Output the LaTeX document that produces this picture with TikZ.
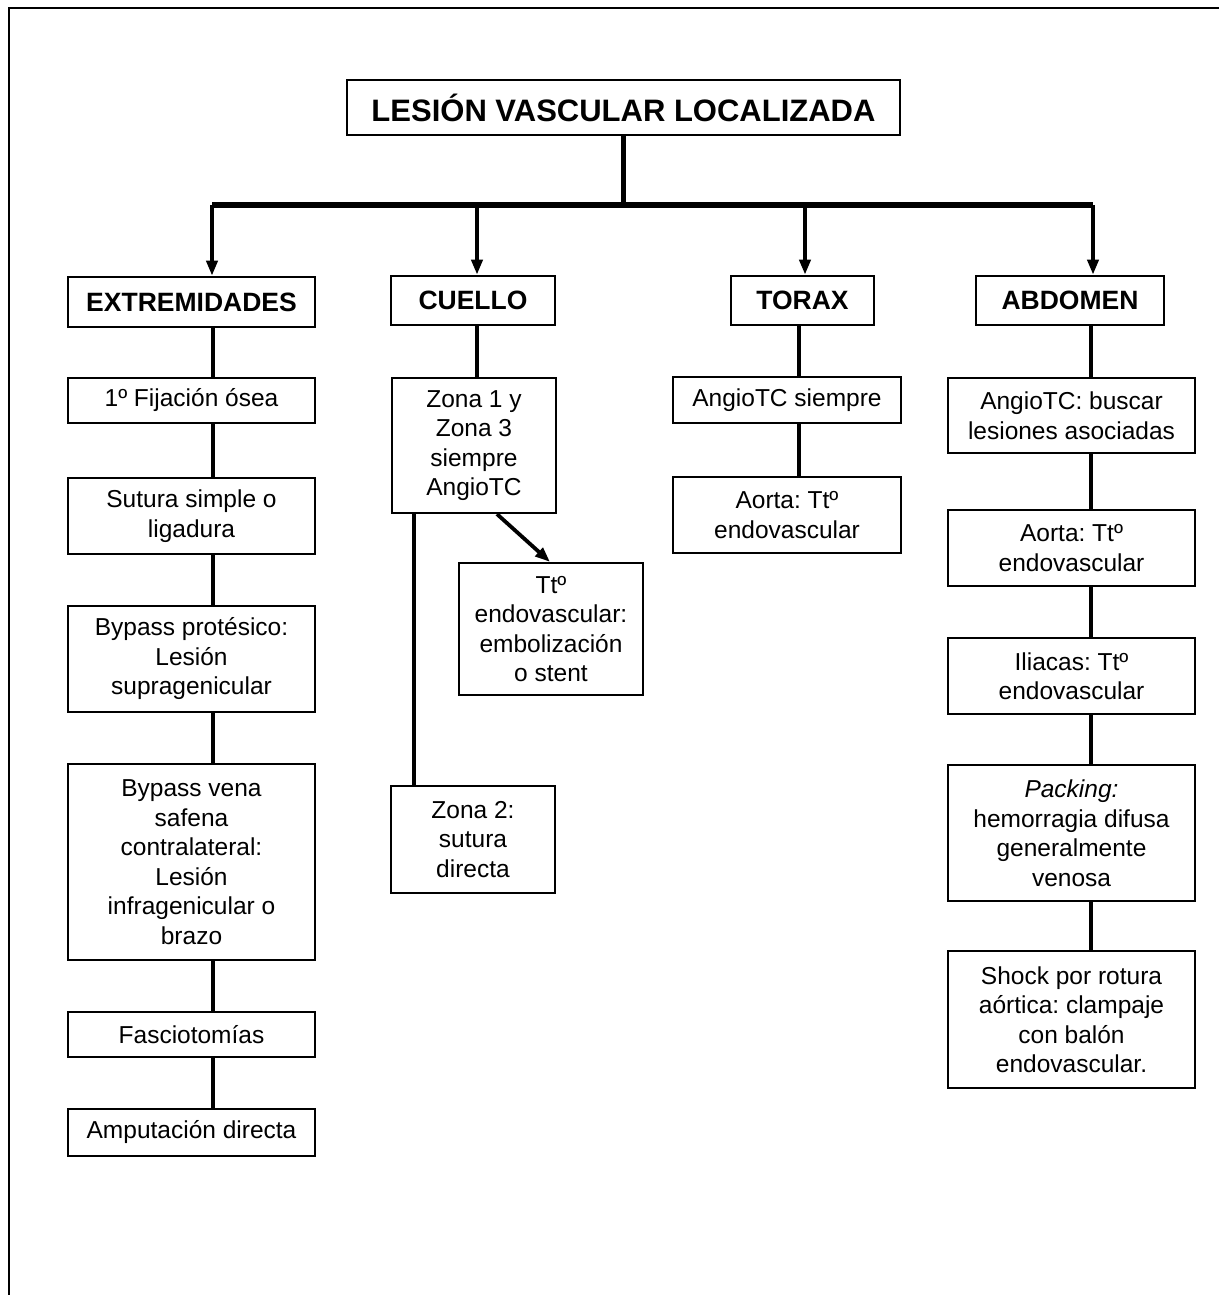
\documentclass[tikz,border=0pt]{standalone}
\usepackage{fontspec}
\setmainfont{Liberation Sans}
\usetikzlibrary{arrows.meta}
\frenchspacing
\begin{document}
\begin{tikzpicture}[x=1pt,y=-1pt,
  box/.style={draw, line width=2.2pt, inner sep=0pt, align=center,
    font=\fontsize{24.5}{29.5}\selectfont},
  headbox/.style={draw, line width=2.6pt, inner sep=0pt, align=center,
    font=\fontsize{26.5}{30}\selectfont\bfseries},
  titlebox/.style={draw, line width=2.8pt, inner sep=0pt, align=center,
    font=\fontsize{31}{34}\selectfont\bfseries},
  link/.style={line width=4.3pt},
  busline/.style={line width=5.5pt},
  arr/.style={line width=3.8pt, -{Triangle[length=15pt,width=11pt]}},
  frame/.style={line width=2.4pt}
]
\useasboundingbox (0,0) rectangle (1219,1295);

% page frame (top and left edges)
\coordinate (fTL) at (9,8);
\coordinate (fTR) at (1219,8);
\coordinate (fBL) at (9,1295);
\draw[frame] (fBL) -- (fTL) -- (fTR);

% title
\node[titlebox, minimum width=553pt, minimum height=55pt] (title) at (623.5,107.5)
  {LESIÓN VASCULAR LOCALIZADA};

% branch headings
\node[headbox, minimum width=247pt, minimum height=50pt] (ext) at (191.5,302) {EXTREMIDADES};
\node[headbox, minimum width=164pt, minimum height=49pt] (cue) at (473,300.5) {CUELLO};
\node[headbox, minimum width=143pt, minimum height=49pt] (tor) at (802.5,300.5) {TORAX};
\node[headbox, minimum width=188pt, minimum height=49pt] (abd) at (1070,300.5) {ABDOMEN};

% bus and arrows
\coordinate (busL) at (212,205);
\coordinate (busR) at (1093,205);
\coordinate (cArrB) at (477,205);
\coordinate (cArrC) at (805,205);
\draw[link] (title.south) -- (title.south |- busL);
\draw[busline] (busL) -- (busR);
\draw[arr] (busL) -- (ext.north -| busL);
\draw[arr] (cArrB) -- (cue.north -| cArrB);
\draw[arr] (cArrC) -- (tor.north -| cArrC);
\draw[arr] (busR) -- (abd.north -| busR);

% extremidades column
\node[box, minimum width=247pt, minimum height=45pt] (fij) at (191.5,400.5) {1º Fijación ósea};
\node[box, minimum width=247pt, minimum height=76pt] (sut) at (191.5,516) {Sutura simple o\\ligadura};
\node[box, minimum width=247pt, minimum height=106pt] (bpp) at (191.5,659) {Bypass protésico:\\Lesión\\supragenicular};
\node[box, minimum width=247pt, minimum height=196pt] (bvs) at (191.5,862) {Bypass vena\\safena\\contralateral:\\Lesión\\infragenicular o\\brazo};
\node[box, minimum width=247pt, minimum height=45pt] (fas) at (191.5,1034.5) {Fasciotomías};
\node[box, minimum width=247pt, minimum height=47pt] (amp) at (191.5,1132.5) {Amputación directa};

\coordinate (colA) at (213,0);
\draw[link] (ext.south -| colA) -- (fij.north -| colA);
\draw[link] (fij.south -| colA) -- (sut.north -| colA);
\draw[link] (sut.south -| colA) -- (bpp.north -| colA);
\draw[link] (bpp.south -| colA) -- (bvs.north -| colA);
\draw[link] (bvs.south -| colA) -- (fas.north -| colA);
\draw[link] (fas.south -| colA) -- (amp.north -| colA);

% cuello column
\node[box, minimum width=164pt, minimum height=135pt] (zun) at (474,445.5) {Zona 1 y\\Zona 3\\siempre\\AngioTC};
\node[box, minimum width=184pt, minimum height=132pt] (tte) at (551,629) {Ttº\\endovascular:\\embolización\\o stent};
\node[box, minimum width=164pt, minimum height=107pt] (zdos) at (473,839.5) {Zona 2:\\sutura\\directa};

\coordinate (colB) at (477,0);
\coordinate (colBb) at (414,0);
\coordinate (diagS) at (497,0);
\coordinate (diagE) at (550,0);
\draw[link] (cue.south -| colB) -- (zun.north -| colB);
\draw[link] (zun.south -| colBb) -- (zdos.north -| colBb);
\draw[arr] (zun.south -| diagS) -- (tte.north -| diagE);

% torax column
\node[box, minimum width=228pt, minimum height=46pt] (ang) at (787,400) {AngioTC siempre};
\node[box, minimum width=228pt, minimum height=76pt] (aot) at (787,515) {Aorta: Ttº\\endovascular};

\coordinate (colC) at (799,0);
\draw[link] (tor.south -| colC) -- (ang.north -| colC);
\draw[link] (ang.south -| colC) -- (aot.north -| colC);

% abdomen column
\node[box, minimum width=247pt, minimum height=75pt] (abus) at (1071.5,415.5) {AngioTC: buscar\\lesiones asociadas};
\node[box, minimum width=247pt, minimum height=76pt] (aao) at (1071.5,548) {Aorta: Ttº\\endovascular};
\node[box, minimum width=247pt, minimum height=76pt] (ail) at (1071.5,676) {Iliacas: Ttº\\endovascular};
\node[box, minimum width=247pt, minimum height=136pt] (apk) at (1071.5,833) {\textit{Packing:}\\hemorragia difusa\\generalmente\\venosa};
\node[box, minimum width=247pt, minimum height=137pt] (ash) at (1071.5,1019.5) {Shock por rotura\\aórtica: clampaje\\con balón\\endovascular.};

\coordinate (colD) at (1091,0);
\draw[link] (abd.south -| colD) -- (abus.north -| colD);
\draw[link] (abus.south -| colD) -- (aao.north -| colD);
\draw[link] (aao.south -| colD) -- (ail.north -| colD);
\draw[link] (ail.south -| colD) -- (apk.north -| colD);
\draw[link] (apk.south -| colD) -- (ash.north -| colD);
\end{tikzpicture}
\end{document}
